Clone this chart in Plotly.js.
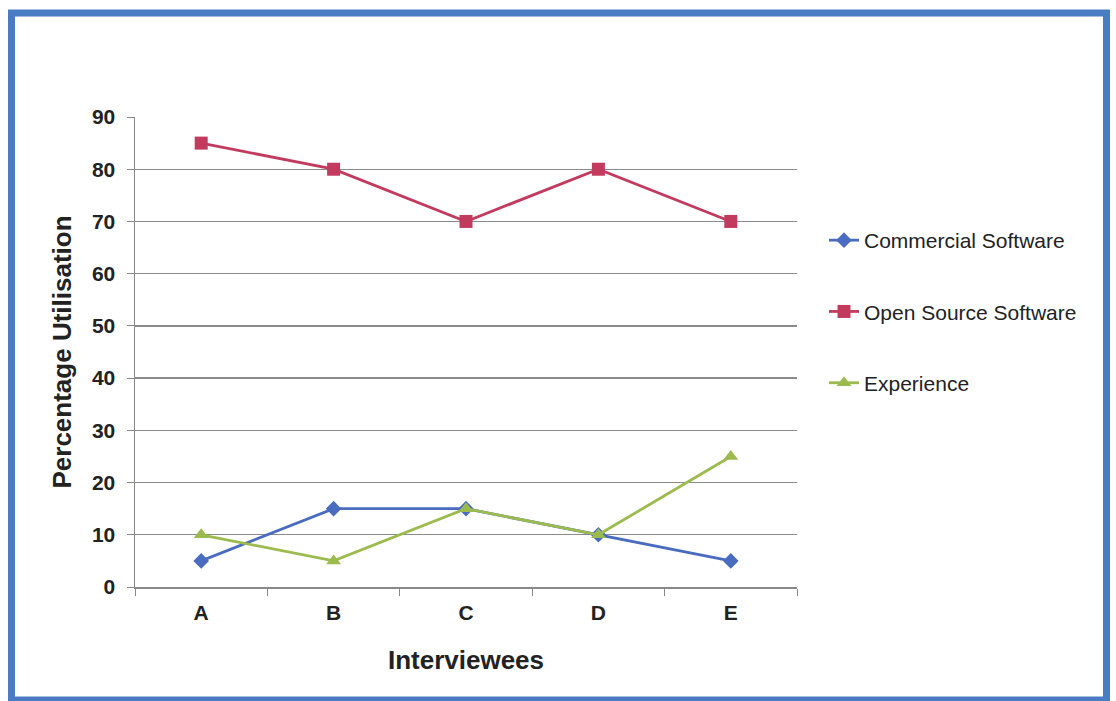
<!DOCTYPE html>
<html>
<head>
<meta charset="utf-8">
<script src="https://cdn.plot.ly/plotly-3.0.1.min.js"></script>
<style>html,body{margin:0;padding:0;background:#fff;}#chart{width:1116px;height:701px;}</style>
</head>
<body>
<div id="chart"></div>
<script>
const categories = ["A", "B", "C", "D", "E"];
const commercialSoftware = [5, 15, 15, 10, 5];
const openSourceSoftware = [85, 80, 70, 80, 70];
const experience = [10, 5, 15, 10, 25];
const seriesNames = ["Commercial Software", "Open Source Software", "Experience"];
const yTickValues = [0, 10, 20, 30, 40, 50, 60, 70, 80, 90];

const W = 1116, H = 701;
const L = 135, R = W - 797, T = 117, B = H - 587;
const pw = W - L - R, ph = H - T - B;
function px(x) { return (x - L) / pw; }
function py(y) { return (H - B - y) / ph; }

const font = "Liberation Sans, Arial, sans-serif";

const traces = [
  {x: categories, y: commercialSoftware, name: seriesNames[0], legendgroup: "g1", type: "scatter", mode: "lines+markers",
   line: {color: "#4A6CC0", width: 2.8}, marker: {symbol: "diamond", size: 12, color: "#4A6CC0"}},
  {x: categories, y: openSourceSoftware, name: seriesNames[1], legendgroup: "g2", type: "scatter", mode: "lines+markers",
   line: {color: "#C23B5E", width: 2.8}, marker: {symbol: "square", size: 13, color: "#C23B5E"}},
  {x: categories, y: experience, name: seriesNames[2], legendgroup: "g3", type: "scatter", mode: "lines+markers",
   line: {color: "#9BBB4E", width: 2.8}, marker: {symbol: "triangle-up", size: 13, color: "#9BBB4E"}}
];

const layout = {
  width: W, height: H,
  margin: {l: L, r: R, t: T, b: B},
  paper_bgcolor: "#ffffff", plot_bgcolor: "#ffffff",
  font: {family: font, color: "#222"},
  showlegend: true,
  legend: {x: px(824), y: py(220), xanchor: "left", yanchor: "top",
           font: {family: font, size: 21, color: "#222"}, tracegroupgap: 41, bgcolor: "rgba(0,0,0,0)"},
  xaxis: {type: "category", range: [-0.5, 4.5], tickson: "boundaries", ticks: "outside", ticklen: 7,
          tickcolor: "#888", showline: true, linecolor: "#888", linewidth: 1.5, showgrid: false,
          ticklabelstandoff: 6,
          tickfont: {family: font, size: 21, color: "#222", weight: "bold"},
          title: {text: "<b>Interviewees</b>", font: {family: font, size: 26, color: "#222"}, standoff: 28}},
  yaxis: {range: [0, 90], tickvals: yTickValues, ticks: "outside", ticklen: 7, tickcolor: "#888",
          showline: true, linecolor: "#888", linewidth: 1.5, showgrid: true, gridcolor: "#8a8a8a", gridwidth: 1.3,
          zeroline: false, ticklabelstandoff: 7,
          tickfont: {family: font, size: 21, color: "#222", weight: "bold"},
          title: {text: "<b>Percentage Utilisation</b>", font: {family: font, size: 26, color: "#222"}, standoff: 13}},
  shapes: [
    {type: "rect", xref: "paper", yref: "paper", x0: px(11.5), x1: px(1106.5), y0: py(13), y1: py(700),
     line: {color: "#4A7CC4", width: 7}, fillcolor: "rgba(0,0,0,0)", layer: "below"}
  ]
};

Plotly.newPlot("chart", traces, layout, {displayModeBar: false, staticPlot: true});
</script>
</body>
</html>
